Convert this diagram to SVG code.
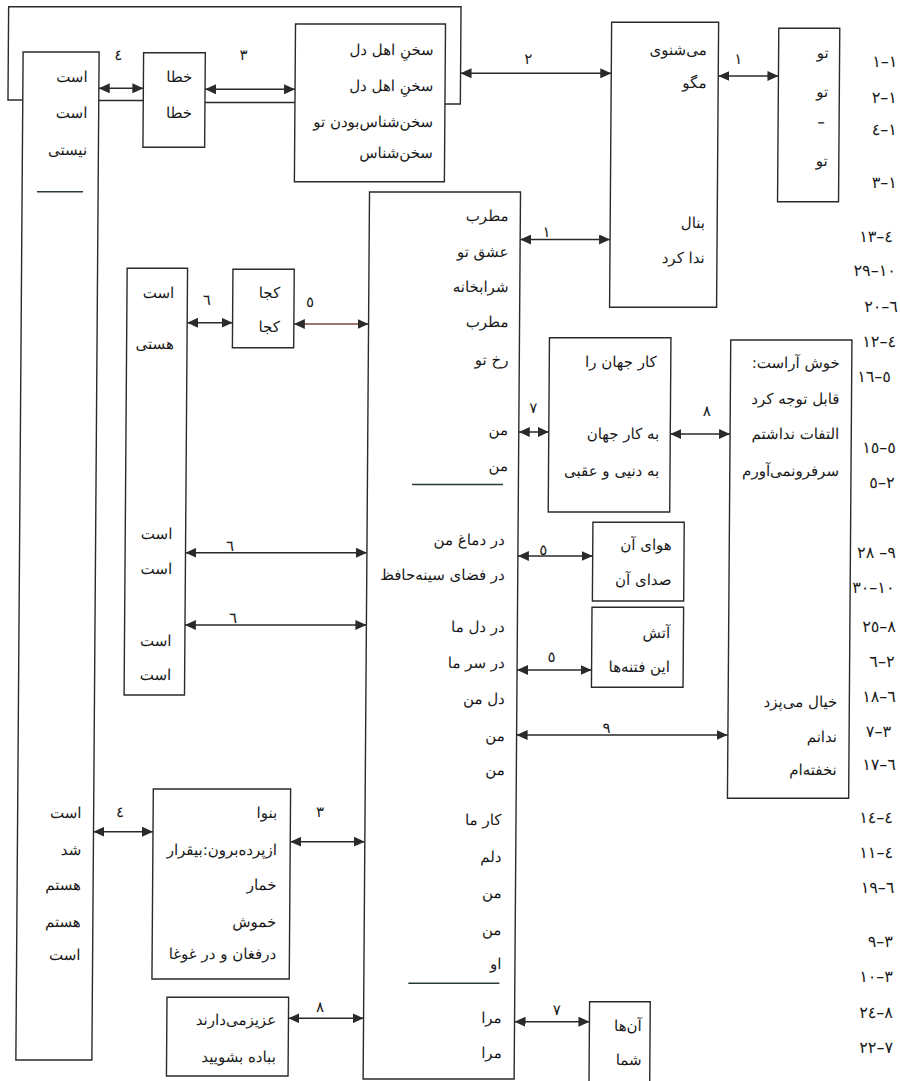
<svg xmlns="http://www.w3.org/2000/svg" width="900" height="1081" viewBox="0 0 900 1081">
<style>
.bx{fill:#fff;stroke:#2a2a2a;stroke-width:1.4}
.cn{fill:none;stroke:#2a2a2a;stroke-width:1.4}
.ar{fill:none;stroke:#2a2a2a;stroke-width:1.4;marker-start:url(#ah);marker-end:url(#ah)}
.dv{stroke:#2a3a3a;stroke-width:1.5}
.p{font-family:'DejaVu Sans',sans-serif;font-size:15px;fill:#1a1a1a;direction:rtl;text-anchor:start}
.n{font-family:'DejaVu Sans',sans-serif;font-size:16px;fill:#1a1a1a;direction:ltr;unicode-bidi:bidi-override;text-anchor:end}
.l{font-family:'DejaVu Sans',sans-serif;font-size:15px;fill:#1a1a1a;text-anchor:middle}
</style>
<defs>
<marker id="ah" viewBox="0 0 11 10" markerWidth="11" markerHeight="10" refX="11" refY="5" orient="auto-start-reverse" markerUnits="userSpaceOnUse">
<path d="M0,0 L11,5 L0,10 Z" fill="#2a2a2a"/>
</marker>
</defs>
<rect width="900" height="1081" fill="#fff"/>
<g transform="translate(3.89 0) skewX(-0.4125)">
<g id="connectors">
<path class="cn" d="M19.6,100 H4.8 V6.7 H457.2 V104 H441.8"/>
<path class="cn" d="M95.5,100.5 H140.1"/>
<path class="cn" d="M201.8,102.5 H291.8"/>
<line class="ar" x1="95.5" y1="88.3" x2="140.1" y2="88.3"/>
<line class="ar" x1="201.8" y1="89.3" x2="291.8" y2="89.3"/>
<line class="ar" x1="457.2" y1="73.3" x2="607.9" y2="73.3"/>
<line class="ar" x1="715" y1="76" x2="775.1" y2="76"/>
<line class="ar" x1="518" y1="239.5" x2="607.9" y2="239.5"/>
<line class="ar" x1="185.6" y1="322.7" x2="231" y2="322.7"/>
<line class="ar" x1="292.3" y1="324" x2="367" y2="324" style="stroke:#7d4a4a"/>
<line class="ar" x1="518" y1="432" x2="548" y2="432"/>
<line class="ar" x1="669.5" y1="434" x2="729.3" y2="434"/>
<line class="ar" x1="185.5" y1="552.7" x2="367" y2="552.7"/>
<line class="ar" x1="185.5" y1="625" x2="367" y2="625"/>
<line class="ar" x1="518" y1="556" x2="592.8" y2="556"/>
<line class="ar" x1="518" y1="670" x2="592.5" y2="670"/>
<line class="ar" x1="518" y1="735" x2="729" y2="735"/>
<line class="ar" x1="95.5" y1="831.7" x2="155.1" y2="831.7"/>
<line class="ar" x1="292.4" y1="841.7" x2="367" y2="841.7"/>
<line class="ar" x1="291.9" y1="1018.3" x2="367" y2="1018.3"/>
<line class="ar" x1="518" y1="1021.7" x2="592.9" y2="1021.7"/>
<text class="l" x="114.8" y="59.8">٤</text>
<text class="l" x="240.1" y="59.8">٣</text>
<text class="l" x="524.8" y="64.5">٢</text>
<text class="l" x="734.8" y="63.8">١</text>
<text class="l" x="544.3" y="237.5">١</text>
<text class="l" x="205" y="305.5">٦</text>
<text class="l" x="308.3" y="307">٥</text>
<text class="l" x="532.5" y="413.5">٧</text>
<text class="l" x="705.8" y="416.5">٨</text>
<text class="l" x="230" y="551">٦</text>
<text class="l" x="233.6" y="623.5">٦</text>
<text class="l" x="543.4" y="555.5">٥</text>
<text class="l" x="552.5" y="662.5">٥</text>
<text class="l" x="608" y="733">٩</text>
<text class="l" x="122" y="817">٤</text>
<text class="l" x="322" y="817.5">٣</text>
<text class="l" x="323.4" y="1012.5">٨</text>
<text class="l" x="560.1" y="1015.5">٧</text>
</g>
<g id="nodeA">
<rect class="bx" x="19.6" y="52" width="76" height="1008"/>
<text class="p" x="84.3" y="82">است</text>
<text class="p" x="84.3" y="118">است</text>
<text class="p" x="84.3" y="155">نیستی</text>
<line class="dv" x1="34.5" y1="191.7" x2="80.5" y2="191.7"/>
<text class="p" x="83.5" y="818">است</text>
<text class="p" x="83.5" y="855">شد</text>
<text class="p" x="83.5" y="890">هستم</text>
<text class="p" x="83.5" y="927">هستم</text>
<text class="p" x="83.5" y="960">است</text>
</g>
<g id="nodeB">
<rect class="bx" x="140.1" y="52.7" width="61.7" height="94.6"/>
<text class="p" x="189" y="82">خطا</text>
<text class="p" x="189" y="117.7">خطا</text>
</g>
<g id="nodeC">
<rect class="bx" x="291.8" y="24" width="150" height="157.7"/>
<text class="p" x="430.2" y="55">سخنِ اهل دل</text>
<text class="p" x="430.2" y="91">سخنِ اهل دل</text>
<text class="p" x="430.2" y="126.7">سخن‌شناس‌بودن تو</text>
<text class="p" x="430.2" y="158.3">سخن‌شناس</text>
</g>
<g id="nodeD">
<rect class="bx" x="607.9" y="22.3" width="107" height="285"/>
<text class="p" x="703.2" y="55">می‌شنوی</text>
<text class="p" x="703.2" y="88.3">مگو</text>
<text class="p" x="702.8" y="228.5">بنال</text>
<text class="p" x="702.8" y="263.3">ندا کرد</text>
</g>
<g id="nodeE">
<rect class="bx" x="775.1" y="28.3" width="61" height="173.4"/>
<text class="p" x="825.1" y="58.3">تو</text>
<text class="p" x="825.1" y="96.7">تو</text>
<text class="l" x="818" y="127">–</text>
<text class="p" x="825.1" y="166">تو</text>
</g>
<g id="nodeF">
<rect class="bx" x="367" y="192" width="151" height="887"/>
<text class="p" x="506.2" y="221">مطرب</text>
<text class="p" x="506.4" y="257">عشق تو</text>
<text class="p" x="506.7" y="292">شرابخانه</text>
<text class="p" x="506.9" y="327">مطرب</text>
<text class="p" x="507.2" y="365">رخ تو</text>
<text class="p" x="507.2" y="435">من</text>
<text class="p" x="507.5" y="471">من</text>
<line class="dv" x1="411.6" y1="484.5" x2="502.6" y2="484.5"/>
<text class="p" x="504.8" y="545">در دماغ من</text>
<text class="p" x="505.1" y="580">در فضای سینه‌حافظ</text>
<text class="p" x="505.4" y="631.7">در دل ما</text>
<text class="p" x="505.7" y="668.3">در سر ما</text>
<text class="p" x="506" y="704.3">دل من</text>
<text class="p" x="506.2" y="741">من</text>
<text class="p" x="506.5" y="775">من</text>
<text class="p" x="503.4" y="825">کار ما</text>
<text class="p" x="503.7" y="862">دلم</text>
<text class="p" x="504" y="898">من</text>
<text class="p" x="504.2" y="935">من</text>
<text class="p" x="504.5" y="969">او</text>
<line class="dv" x1="411.5" y1="983.3" x2="502.5" y2="983.3"/>
<text class="p" x="505.1" y="1023">مرا</text>
<text class="p" x="505.4" y="1058">مرا</text>
</g>
<g id="nodeG">
<rect class="bx" x="548" y="337.7" width="121.5" height="174.3"/>
<text class="p" x="655.5" y="367.5">کار جهان را</text>
<text class="p" x="658.5" y="439">به کار جهان</text>
<text class="p" x="658.8" y="476">به دنیی و عقبی</text>
</g>
<g id="nodeH">
<rect class="bx" x="729.3" y="340" width="121.2" height="458.3"/>
<text class="p" x="838.5" y="368.3">خوش آراست:</text>
<text class="p" x="838.5" y="404">قابل توجه کرد</text>
<text class="p" x="838.5" y="439.5">التفات نداشتم</text>
<text class="p" x="838.5" y="476.5">سرفرونمی‌آورم</text>
<text class="p" x="838.5" y="706.7">خیال می‌پزد</text>
<text class="p" x="838.5" y="741.7">ندانم</text>
<text class="p" x="838.5" y="775">نخفته‌ام</text>
</g>
<g id="nodeI">
<rect class="bx" x="592.8" y="522.3" width="91.3" height="78.7"/>
<text class="p" x="671.8" y="550">هوای آن</text>
<text class="p" x="671.8" y="585">صدای آن</text>
</g>
<g id="nodeJ">
<rect class="bx" x="592.5" y="607.3" width="91.6" height="80"/>
<text class="p" x="670.8" y="638">آتش</text>
<text class="p" x="670.8" y="671.7">این فتنه‌ها</text>
</g>
<g id="nodeK">
<rect class="bx" x="592.9" y="1001.7" width="60.7" height="90"/>
<text class="p" x="645.3" y="1031">آن‌ها</text>
<text class="p" x="645.3" y="1065">شما</text>
</g>
<g id="nodeL">
<rect class="bx" x="155.1" y="789" width="137.3" height="190"/>
<text class="p" x="279.1" y="818.3">بنوا</text>
<text class="p" x="279.1" y="855">ازپرده‌برون:بیقرار</text>
<text class="p" x="279.1" y="890">خمار</text>
<text class="p" x="279.1" y="926.7">خموش</text>
<text class="p" x="279.1" y="959">درفغان و در غوغا</text>
</g>
<g id="nodeM">
<rect class="bx" x="170.3" y="997.3" width="121.6" height="78.7"/>
<text class="p" x="279.6" y="1025">عزیزمی‌دارند</text>
<text class="p" x="279.6" y="1061.7">بباده بشویید</text>
</g>
<g id="nodeN">
<rect class="bx" x="125.2" y="268.3" width="60.4" height="426.7"/>
<text class="p" x="172.5" y="297.7">است</text>
<text class="p" x="172.5" y="349.3">هستی</text>
<text class="p" x="172.3" y="539">است</text>
<text class="p" x="172.3" y="574.3">است</text>
<text class="p" x="172.2" y="645.7">است</text>
<text class="p" x="172.2" y="680">است</text>
</g>
<g id="nodeO">
<rect class="bx" x="231" y="269.3" width="61.3" height="78.4"/>
<text class="p" x="278.3" y="297.7">کجا</text>
<text class="p" x="278.3" y="331.7">کجا</text>
</g>
<g id="refs">
<text class="n" x="894" y="67">١–١</text>
<text class="n" x="893.8" y="103">٢–١</text>
<text class="n" x="894" y="135.5">٤–١</text>
<text class="n" x="894.4" y="188.5">٣–١</text>
<text class="n" x="890.8" y="242">١٣–٤</text>
<text class="n" x="894" y="276.5">٢٩–١٠</text>
<text class="n" x="896.3" y="312">٢٠–٦</text>
<text class="n" x="894.6" y="347">١٢–٤</text>
<text class="n" x="889.8" y="382">١٦–٥</text>
<text class="n" x="895.3" y="453.5">١٥–٥</text>
<text class="n" x="894.1" y="488.5">٥–٢</text>
<text class="n" x="896.1" y="558.5">٢٨ –٩</text>
<text class="n" x="894.9" y="593.5">٣٠–١٠</text>
<text class="n" x="896.6" y="632">٢٥–٨</text>
<text class="n" x="895.4" y="667">٦–٢</text>
<text class="n" x="897.1" y="702">١٨–٦</text>
<text class="n" x="892.4" y="737">٧–٣</text>
<text class="n" x="897.6" y="770.5">١٧–٦</text>
<text class="n" x="895" y="823.5">١٤–٤</text>
<text class="n" x="895.3" y="858.5">١١–٤</text>
<text class="n" x="897" y="893.5">١٩–٦</text>
<text class="n" x="895.9" y="947">٩–٣</text>
<text class="n" x="896.1" y="982">١٠–٣</text>
<text class="n" x="896.4" y="1018.5">٢٤–٨</text>
<text class="n" x="896.7" y="1053.5">٢٢–٧</text>
</g>
</g>
</svg>
